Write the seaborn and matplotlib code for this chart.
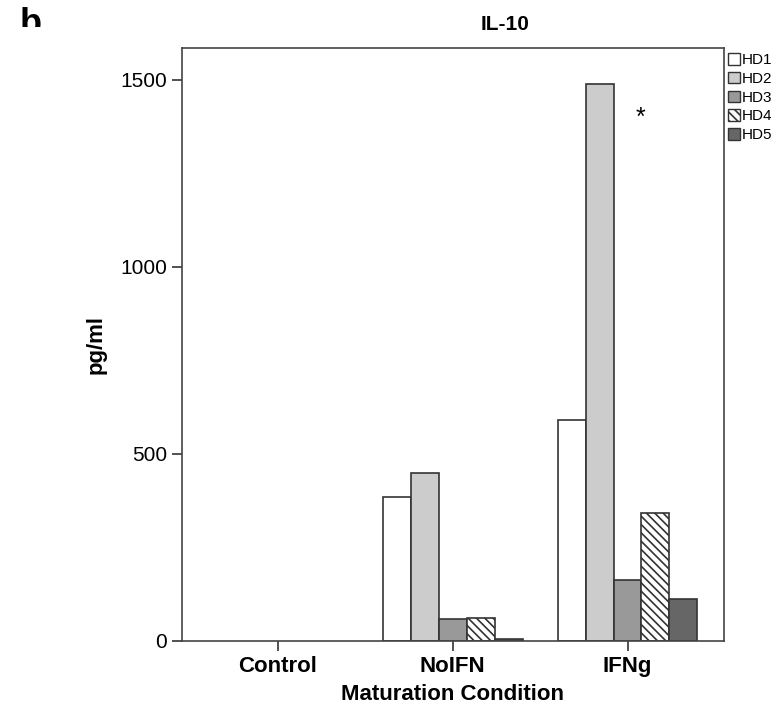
import pandas as pd
import matplotlib
matplotlib.use('Agg')
import matplotlib.pyplot as plt
import seaborn as sns
from matplotlib.patches import Patch
from matplotlib.transforms import Bbox, TransformedBbox

# Data (pg/ml)
conditions = ['Control', 'NoIFN', 'IFNg']
donors = ['HD1', 'HD2', 'HD3', 'HD4', 'HD5']
hd1 = [0, 385, 591]
hd2 = [0, 449, 1490]
hd3 = [0, 59, 163]
hd4 = [0, 61, 342]
hd5 = [0, 5, 112]

rows = []
for name, vals in zip(donors, [hd1, hd2, hd3, hd4, hd5]):
    for cond, v in zip(conditions, vals):
        rows.append({'Condition': cond, 'Donor': name, 'pg/ml': v})
df = pd.DataFrame(rows)

sns.set_theme(style="white")
plt.rcParams['font.family'] = ['Liberation Sans', 'DejaVu Sans']
plt.rcParams['hatch.linewidth'] = 1.2
for key in ['text.color', 'axes.labelcolor', 'xtick.labelcolor', 'ytick.labelcolor']:
    plt.rcParams[key] = 'black'

fills = ['#ffffff', '#cccccc', '#999999', '#ffffff', '#666666']
hatches = ['', '', '', '\\\\\\\\', '']
edge = '#333333'

fig = plt.figure(figsize=(7.84, 7.17), dpi=100)
ax = fig.add_axes([0.232, 0.106, 0.691, 0.827])

sns.barplot(data=df, x='Condition', y='pg/ml', hue='Donor', order=conditions,
            hue_order=donors, palette=fills, width=0.8, ax=ax, legend=False,
            edgecolor=edge, linewidth=1.2, saturation=1)

for i, cont in enumerate(ax.containers):
    for bar in cont:
        bar.set_hatch(hatches[i])
        if bar.get_height() == 0:
            bar.set_linewidth(0)

ax.set_xlim(-0.55, 2.55)
ax.set_ylim(0, 1585)
ax.set_yticks([0, 500, 1000, 1500])
ax.set_xlabel('Maturation Condition', fontsize=16, fontweight='bold', labelpad=5)
ax.set_ylabel('pg/ml', fontsize=16, fontweight='bold', labelpad=10)
ax.tick_params(axis='both', length=7, width=1.2, color='#333333',
               direction='out', left=True, bottom=True)
ax.tick_params(axis='y', labelsize=15)
ax.tick_params(axis='x', labelsize=16)
for lbl in ax.get_xticklabels():
    lbl.set_fontweight('bold')
for s in ax.spines.values():
    s.set_color('#444444')
    s.set_linewidth(1.2)

ax.text(2.074, 1398, '*', fontsize=18, ha='center', va='center')

# chart title sits centred over the whole chart area (axes + legend)
fig.text(0.644, 0.966, 'IL-10', fontsize=15, fontweight='bold',
         ha='center', va='center')

handles = [Patch(facecolor=f, edgecolor=edge, hatch=h, linewidth=1)
           for f, h in zip(fills, hatches)]
fig.legend(handles, donors, loc='upper left', bbox_to_anchor=(0.928, 0.926),
           frameon=False, fontsize=11, handlelength=0.8, handleheight=0.8,
           handletextpad=0.15, labelspacing=0.3, borderaxespad=0, borderpad=0)

# panel letter, cut off at the bottom like in the original figure
b = fig.text(0.025, 0.9526, 'b', fontsize=26, fontweight='bold', va='baseline')
b.set_clip_box(TransformedBbox(Bbox([[0, 1 - 27 / 717], [0.2, 1]]), fig.transFigure))
b.set_clip_on(True)

fig.savefig('out.png', dpi=100)
